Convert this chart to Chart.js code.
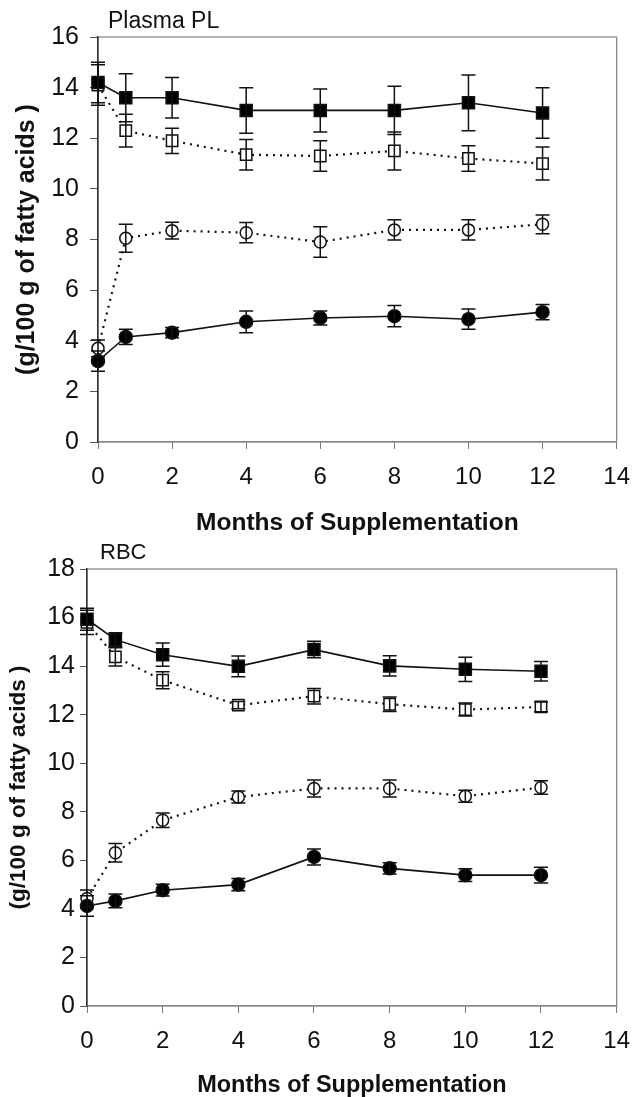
<!DOCTYPE html>
<html>
<head>
<meta charset="utf-8">
<script src="https://cdn.jsdelivr.net/npm/chart.js@4"></script>
<style>
  body { margin: 0; background: #fff; }
  canvas { position: absolute; left: 0; }
  #plasmaChart { top: 0; }
  #rbcChart { top: 535px; }
</style>
</head>
<body>
<canvas id="plasmaChart" width="644" height="545"></canvas>
<canvas id="rbcChart" width="644" height="562"></canvas>
<script>
var months = [0, 0.75, 2, 4, 6, 8, 10, 12];
var xTicks = [0, 2, 4, 6, 8, 10, 12, 14];

// Plasma PL
var plasmaFilledSq = [14.2, 13.6, 13.6, 13.1, 13.1, 13.1, 13.4, 13.0];
var plasmaFilledSqErr = [0.8, 0.95, 0.8, 0.9, 0.85, 0.95, 1.1, 1.0];
var plasmaOpenSq = [14.1, 12.3, 11.9, 11.35, 11.3, 11.5, 11.2, 11.0];
var plasmaOpenSqErr = [0.8, 0.65, 0.5, 0.6, 0.6, 0.75, 0.5, 0.65];
var plasmaOpenCirc = [3.7, 8.05, 8.35, 8.27, 7.9, 8.38, 8.38, 8.6];
var plasmaOpenCircErr = [0.33, 0.55, 0.33, 0.4, 0.6, 0.4, 0.4, 0.37];
var plasmaFilledCirc = [3.2, 4.15, 4.32, 4.75, 4.9, 4.97, 4.85, 5.13];
var plasmaFilledCircErr = [0.4, 0.3, 0.2, 0.43, 0.28, 0.42, 0.4, 0.3];

// RBC
var rbcFilledSq = [15.93, 15.09, 14.47, 13.99, 14.68, 14.01, 13.87, 13.79];
var rbcFilledSqErr = [0.45, 0.28, 0.48, 0.43, 0.34, 0.42, 0.5, 0.4];
var rbcOpenSq = [15.8, 14.38, 13.42, 12.39, 12.76, 12.43, 12.21, 12.32];
var rbcOpenSqErr = [0.5, 0.38, 0.35, 0.15, 0.32, 0.3, 0.27, 0.2];
var rbcOpenCirc = [4.43, 6.31, 7.65, 8.61, 8.96, 8.96, 8.64, 9.0];
var rbcOpenCircErr = [0.35, 0.38, 0.3, 0.25, 0.35, 0.35, 0.25, 0.28];
var rbcFilledCirc = [4.12, 4.33, 4.77, 5.0, 6.14, 5.67, 5.39, 5.39];
var rbcFilledCircErr = [0.42, 0.28, 0.24, 0.25, 0.33, 0.23, 0.26, 0.32];

var FONT = "'Liberation Sans', Arial, sans-serif";

function points(values, errs) {
    return values.map(function (v, i) {
        return { x: months[i], y: v, e: errs[i] };
    });
}

function series(label, values, errs, style, filled, dotted) {
    return {
        label: label,
        data: points(values, errs),
        borderColor: '#111',
        borderWidth: dotted ? 2.2 : 1.6,
        borderDash: dotted ? [2, 5] : [],
        pointStyle: style,
        pointRadius: style === 'rect' ? (filled ? 8.5 : 8) : (filled ? 6.5 : 6),
        pointBackgroundColor: filled ? '#000' : '#fff',
        pointBorderColor: '#111',
        pointBorderWidth: 1.5,
        tension: 0,
        clip: false
    };
}

var errorBars = {
    id: 'errorBars',
    afterDatasetsDraw: function (chart) {
        var ctx = chart.ctx;
        var xs = chart.scales.x, ys = chart.scales.y;
        ctx.save();
        ctx.strokeStyle = '#111';
        ctx.lineWidth = 1.5;
        chart.data.datasets.forEach(function (ds) {
            ds.data.forEach(function (p) {
                var x = xs.getPixelForValue(p.x);
                var top = ys.getPixelForValue(p.y + p.e);
                var bot = ys.getPixelForValue(p.y - p.e);
                ctx.beginPath();
                ctx.moveTo(x, top); ctx.lineTo(x, bot);
                ctx.moveTo(x - 7, top); ctx.lineTo(x + 7, top);
                ctx.moveTo(x - 7, bot); ctx.lineTo(x + 7, bot);
                ctx.stroke();
            });
        });
        ctx.restore();
    }
};

var frame = {
    id: 'frame',
    beforeDraw: function (chart) {
        var a = chart.chartArea, ctx = chart.ctx;
        ctx.save();
        ctx.strokeStyle = '#8a8a8a';
        ctx.lineWidth = 1.3;
        ctx.strokeRect(a.left, a.top, a.right - a.left, a.bottom - a.top);
        ctx.restore();
    },
    afterDraw: function (chart, args, opts) {
        var a = chart.chartArea, ctx = chart.ctx;
        ctx.save();
        ctx.fillStyle = '#111';
        ctx.font = opts.size + 'px ' + FONT;
        ctx.textBaseline = 'middle';
        ctx.fillText(opts.text, a.left + opts.dx, a.top - opts.dy);
        ctx.restore();
    }
};

function makeChart(id, title, yMax, dims, data) {
    var ctx = document.getElementById(id).getContext('2d');
    return new Chart(ctx, {
        type: 'line',
        data: {
            datasets: [
                series('Filled squares', data[0], data[1], 'rect', true, false),
                series('Filled circles', data[6], data[7], 'circle', true, false),
                series('Open squares', data[2], data[3], 'rect', false, true),
                series('Open circles', data[4], data[5], 'circle', false, true)
            ]
        },
        options: {
            responsive: false,
            animation: false,
            devicePixelRatio: 1,
            layout: { padding: { left: 0, top: dims.top, right: dims.right, bottom: 0 } },
            plugins: {
                legend: { display: false },
                tooltip: { enabled: false },
                frame: { text: title, size: dims.titleSize, dx: dims.titleDx, dy: dims.titleDy }
            },
            scales: {
                x: {
                    type: 'linear',
                    min: 0,
                    max: 14,
                    afterBuildTicks: function (s) {
                        s.ticks = xTicks.map(function (v) { return { value: v }; });
                    },
                    ticks: { color: '#111', font: { size: 24, family: FONT }, padding: 14 },
                    grid: { drawOnChartArea: false, tickLength: 7, color: '#777' },
                    border: { color: '#8a8a8a', width: 1.3 },
                    title: {
                        display: true,
                        text: 'Months of Supplementation',
                        color: '#111',
                        font: { size: dims.xTitleSize, weight: 'bold', family: FONT, lineHeight: 1 },
                        padding: { top: 0, bottom: dims.xTitlePad }
                    },
                    afterFit: function (s) { s.height = dims.xHeight; }
                },
                y: {
                    min: 0,
                    max: yMax,
                    ticks: { stepSize: 2, color: '#111', font: { size: 25, family: FONT }, padding: dims.yTickPad },
                    grid: { drawOnChartArea: false, tickLength: dims.yTickLen, color: '#555' },
                    border: { color: '#333', width: 1.5 },
                    title: {
                        display: true,
                        text: '(g/100 g of fatty acids )',
                        color: '#111',
                        font: { size: dims.yTitleSize, weight: 'bold', family: FONT },
                        padding: { top: dims.yTitlePad, bottom: 0 }
                    },
                    afterFit: function (s) { s.width = dims.yWidth; }
                }
            }
        },
        plugins: [frame, errorBars]
    });
}

var plasmaChart = makeChart('plasmaChart', 'Plasma PL', 16,
    { top: 37, right: 20, xHeight: 103, yWidth: 98, xTitlePad: 10, xTitleSize: 24.5,
      yTitlePad: 12, yTitleSize: 25, yTickPad: 11, yTickLen: 8,
      titleSize: 23, titleDx: 10, titleDy: 15 },
    [plasmaFilledSq, plasmaFilledSqErr, plasmaOpenSq, plasmaOpenSqErr,
     plasmaOpenCirc, plasmaOpenCircErr, plasmaFilledCirc, plasmaFilledCircErr]);

var rbcChart = makeChart('rbcChart', 'RBC', 18,
    { top: 34, right: 12, xHeight: 91, yWidth: 87, xTitlePad: 0, xTitleSize: 23.5,
      yTitlePad: 5, yTitleSize: 22.5, yTickPad: 5, yTickLen: 7,
      titleSize: 22, titleDx: 13, titleDy: 16 },
    [rbcFilledSq, rbcFilledSqErr, rbcOpenSq, rbcOpenSqErr,
     rbcOpenCirc, rbcOpenCircErr, rbcFilledCirc, rbcFilledCircErr]);
</script>
</body>
</html>
